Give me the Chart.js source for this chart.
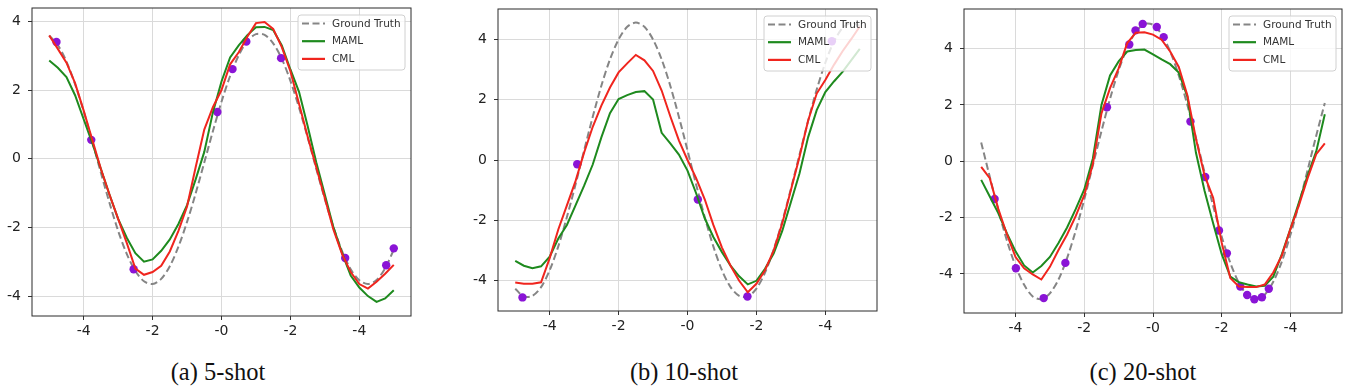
<!DOCTYPE html>
<html>
<head>
<meta charset="utf-8">
<script src="https://cdn.jsdelivr.net/npm/chart.js@4.4.1/dist/chart.umd.min.js"></script>
<style>
  html, body { margin: 0; padding: 0; background: #fff; }
  body { width: 1347px; height: 389px; position: relative; overflow: hidden; }
  .panel { position: absolute; top: 0; height: 345px; }
  .caption {
    position: absolute; top: 358px; width: 240px; text-align: center; line-height: 28px;
    font-family: 'Liberation Serif', 'Times New Roman', serif; font-size: 24.5px; color: #111;
  }
</style>
</head>
<body>
<div class="panel" id="boxA" style="left:0px;width:420px"><canvas id="chartA"></canvas></div>
<div class="panel" id="boxB" style="left:460px;width:425px"><canvas id="chartB"></canvas></div>
<div class="panel" id="boxC" style="left:925px;width:422px"><canvas id="chartC"></canvas></div>
<div class="caption" style="left:98px">(a) 5-shot</div>
<div class="caption" style="left:564px">(b) 10-shot</div>
<div class="caption" style="left:1023px">(c) 20-shot</div>
<script>
// shared x grid of the curves
const xs = [-5, -4.75, -4.5, -4.25, -4, -3.75, -3.5, -3.25, -3, -2.75, -2.5, -2.25, -2, -1.75, -1.5, -1.25,
  -1, -0.75, -0.5, -0.25, 0, 0.25, 0.5, 0.75, 1, 1.25, 1.5, 1.75, 2, 2.25, 2.5, 2.75, 3, 3.25, 3.5, 3.75,
  4, 4.25, 4.5, 4.75, 5];

// tick labels as printed in the figure
const xTickValues = [-4, -2, 0, 2, 4];
const xTickLabels = ['-4', '-2', '-0', '-2', '-4'];
const yTickValues = [-4, -2, 0, 2, 4];
const yTickLabels = ['-4', '-2', '0', '2', '4'];

// (a) 5-shot
const gtA = [3.59, 3.31, 2.83, 2.17, 1.38, 0.50, -0.41, -1.29, -2.10, -2.77, -3.27, -3.57, -3.65, -3.50, -3.13,
  -2.56, -1.84, -1.01, -0.11, 0.80, 1.66, 2.41, 3.01, 3.43, 3.63, 3.61, 3.36, 2.91, 2.27, 1.49, 0.62, -0.29,
  -1.18, -2.00, -2.69, -3.22, -3.54, -3.65, -3.53, -3.19, -2.65];
const mamlA = [2.86, 2.65, 2.38, 1.85, 1.15, 0.45, -0.3, -1.05, -1.75, -2.3, -2.75, -3.0, -2.93, -2.68, -2.35,
  -1.9, -1.35, -0.6, 0.2, 1.35, 2.25, 2.95, 3.3, 3.6, 3.83, 3.84, 3.75, 3.3, 2.6, 1.95, 0.95, -0.1, -1.05,
  -2.0, -2.75, -3.4, -3.75, -4.0, -4.17, -4.07, -3.83];
const cmlA = [3.59, 3.2, 2.8, 2.2, 1.4, 0.55, -0.3, -1.05, -1.75, -2.45, -3.2, -3.38, -3.3, -3.12, -2.7,
  -2.1, -1.39, -0.25, 0.85, 1.5, 2.0, 2.75, 3.1, 3.55, 3.95, 3.98, 3.78, 3.25, 2.55, 1.6, 0.65, -0.25, -1.15,
  -2.07, -2.78, -3.3, -3.65, -3.78, -3.58, -3.35, -3.09];
const shotsAX = [-4.79, -3.78, -2.55, -0.12, 0.32, 0.72, 1.73, 3.59, 4.78, 5.0];
const shotsAY = [3.40, 0.55, -3.22, 1.36, 2.61, 3.41, 2.93, -2.89, -3.10, -2.61];

// (b) 10-shot
const gtB = [-4.26, -4.52, -4.50, -4.21, -3.65, -2.86, -1.89, -0.81, 0.32, 1.43, 2.46, 3.33, 3.99, 4.41, 4.55,
  4.41, 3.99, 3.33, 2.46, 1.43, 0.32, -0.81, -1.89, -2.86, -3.65, -4.21, -4.50, -4.52, -4.26, -3.73, -2.97,
  -2.03, -0.96, 0.17, 1.29, 2.33, 3.22, 3.92, 4.37, 4.55, 4.44];
const mamlB = [-3.34, -3.5, -3.58, -3.52, -3.2, -2.6, -2.15, -1.5, -0.85, -0.15, 0.75, 1.55, 2.02, 2.15, 2.25,
  2.28, 2.0, 0.9, 0.55, 0.18, -0.35, -1.1, -1.93, -2.55, -3.05, -3.5, -3.85, -4.12, -4.0, -3.6, -3.1, -2.35,
  -1.4, -0.45, 0.75, 1.65, 2.25, 2.6, 2.92, 3.3, 3.68];
const cmlB = [-4.06, -4.1, -4.1, -4.05, -3.25, -2.3, -1.5, -0.7, 0.25, 1.1, 1.8, 2.4, 2.9, 3.2, 3.48, 3.3,
  2.95, 2.3, 1.45, 0.65, 0.0, -0.6, -1.3, -2.15, -2.9, -3.5, -4.0, -4.38, -4.1, -3.65, -3.0, -2.1, -1.0, 0.1,
  1.3, 2.2, 2.65, 3.15, 3.6, 4.0, 4.42];
const shotsBX = [-4.79, -3.20, 0.30, 1.74, 4.19];
const shotsBY = [-4.55, -0.14, -1.31, -4.52, 3.93];

// (c) 20-shot
const gtC = [0.67, -0.55, -1.74, -2.82, -3.72, -4.39, -4.80, -4.90, -4.69, -4.20, -3.44, -2.47, -1.35, -0.14,
  1.07, 2.22, 3.23, 4.04, 4.60, 4.88, 4.85, 4.51, 3.90, 3.05, 2.00, 0.83, -0.39, -1.58, -2.68, -3.61, -4.32,
  -4.76, -4.90, -4.74, -4.28, -3.56, -2.61, -1.51, -0.31, 0.91, 2.07];
const mamlC = [-0.66, -1.25, -1.85, -2.56, -3.2, -3.7, -3.95, -3.72, -3.4, -2.9, -2.35, -1.7, -1.0, 0.1, 2.0,
  3.05, 3.55, 3.9, 3.95, 3.97, 3.8, 3.62, 3.45, 3.15, 2.3, 0.3, -1.05, -2.2, -3.3, -4.1, -4.3, -4.38, -4.45,
  -4.42, -4.1, -3.3, -2.4, -1.45, -0.5, 0.35, 1.67];
const cmlC = [-0.2, -0.6, -1.7, -2.6, -3.4, -3.8, -4.02, -4.2, -3.75, -3.15, -2.6, -1.95, -1.2, -0.1, 1.7, 2.6,
  3.3, 4.2, 4.57, 4.58, 4.5, 4.32, 3.9, 3.35, 2.35, 0.8, -0.5, -1.3, -2.9, -4.15, -4.45, -4.47, -4.47, -4.38,
  -3.95, -3.35, -2.4, -1.55, -0.6, 0.25, 0.64];
const shotsCX = [-4.61, -3.99, -3.18, -2.55, -1.34, -0.69, -0.51, -0.30, 0.11, 0.31, 1.09, 1.52, 1.92, 2.15,
  2.54, 2.74, 2.95, 3.17, 3.37];
const shotsCY = [-1.34, -3.80, -4.86, -3.61, 1.92, 4.15, 4.65, 4.88, 4.77, 4.41, 1.41, -0.56, -2.46, -3.27,
  -4.45, -4.75, -4.90, -4.83, -4.53];

const GT_COLOR = '#858585';
const MAML_COLOR = '#1e8a1e';
const CML_COLOR = '#f0251e';
const SHOT_COLOR = '#8a14d6';

const toPoints = (xv, yv) => xv.map((x, i) => ({ x, y: yv[i] }));

// matplotlib-like frame + legend inside the axes
const framePlugin = {
  id: 'frame',
  afterDatasetsDraw(chart) {
    const { ctx, chartArea: ca } = chart;
    ctx.save();
    ctx.strokeStyle = '#2b2b2b';
    ctx.lineWidth = 1;
    ctx.strokeRect(ca.left, ca.top, ca.right - ca.left, ca.bottom - ca.top);

    // legend box
    const w = 107, h = 55;
    const bx = ca.right - 6 - w, by = ca.top + 7;
    ctx.beginPath();
    ctx.roundRect(bx, by, w, h, 3);
    ctx.fillStyle = 'rgba(255,255,255,0.8)';
    ctx.fill();
    ctx.strokeStyle = '#d0d0d0';
    ctx.stroke();

    const entries = chart.data.datasets.filter(d => d.label);
    ctx.font = '10.5px "DejaVu Sans", sans-serif';
    ctx.textBaseline = 'middle';
    entries.forEach((d, i) => {
      const cy = by + 8.5 + i * 17.7;
      ctx.beginPath();
      ctx.setLineDash(d.borderDash || []);
      ctx.strokeStyle = d.borderColor;
      ctx.lineWidth = 2.2;
      ctx.moveTo(bx + 4, cy);
      ctx.lineTo(bx + 27, cy);
      ctx.stroke();
      ctx.setLineDash([]);
      ctx.fillStyle = '#333';
      ctx.fillText(d.label, bx + 34, cy + 0.5);
    });
    ctx.restore();
  }
};

function makeChart(id, cfg) {
  const datasets = [
    {
      label: 'Ground Truth', data: toPoints(xs, cfg.gt), borderColor: GT_COLOR, borderWidth: 2,
      borderDash: [7, 3.5], pointRadius: 0, tension: 0.3, order: 4
    },
    {
      type: 'scatter', data: toPoints(cfg.sx, cfg.sy), backgroundColor: SHOT_COLOR, borderWidth: 0,
      pointRadius: 4.2, order: 3
    },
    {
      label: 'MAML', data: toPoints(xs, cfg.maml), borderColor: MAML_COLOR, borderWidth: 2,
      pointRadius: 0, tension: 0, order: 2
    },
    {
      label: 'CML', data: toPoints(xs, cfg.cml), borderColor: CML_COLOR, borderWidth: 2,
      pointRadius: 0, tension: 0, order: 1
    }
  ];
  const tickFont = { family: '"DejaVu Sans", sans-serif', size: 14 };
  return new Chart(document.getElementById(id), {
    type: 'line',
    data: { datasets },
    options: {
      responsive: true,
      maintainAspectRatio: false,
      animation: false,
      layout: { padding: { left: 0, right: cfg.padRight, top: cfg.padTop, bottom: 0 } },
      plugins: { legend: { display: false }, tooltip: { enabled: false } },
      scales: {
        x: {
          type: 'linear', min: -5.5, max: 5.5,
          afterBuildTicks: s => { s.ticks = xTickValues.map(v => ({ value: v })); },
          afterFit: s => { s.height = cfg.xAxisH; s.paddingLeft = 0; s.paddingRight = 0; },
          grid: { color: '#dadada', lineWidth: 1, tickLength: 4, tickColor: '#333' },
          border: { display: false },
          ticks: {
            font: tickFont, color: '#222', padding: 3, maxRotation: 0,
            callback: v => xTickLabels[xTickValues.indexOf(v)]
          }
        },
        y: {
          type: 'linear', min: cfg.yMin, max: cfg.yMax,
          afterBuildTicks: s => { s.ticks = yTickValues.map(v => ({ value: v })); },
          afterFit: s => { s.width = cfg.yAxisW; s.paddingTop = 0; s.paddingBottom = 0; },
          grid: { color: '#dadada', lineWidth: 1, tickLength: 4, tickColor: '#333' },
          border: { display: false },
          ticks: {
            font: tickFont, color: '#222', padding: 7,
            callback: v => yTickLabels[yTickValues.indexOf(v)]
          }
        }
      }
    },
    plugins: [framePlugin]
  });
}

makeChart('chartA', {
  gt: gtA, maml: mamlA, cml: cmlA, sx: shotsAX, sy: shotsAY,
  yMin: -4.58, yMax: 4.39, yAxisW: 32, xAxisH: 29, padRight: 9, padTop: 8
});
makeChart('chartB', {
  gt: gtB, maml: mamlB, cml: cmlB, sx: shotsBX, sy: shotsBY,
  yMin: -5.0, yMax: 5.0, yAxisW: 38, xAxisH: 34, padRight: 8, padTop: 9
});
makeChart('chartC', {
  gt: gtC, maml: mamlC, cml: cmlC, sx: shotsCX, sy: shotsCY,
  yMin: -5.39, yMax: 5.41, yAxisW: 39, xAxisH: 32, padRight: 5, padTop: 9
});
</script>
</body>
</html>
